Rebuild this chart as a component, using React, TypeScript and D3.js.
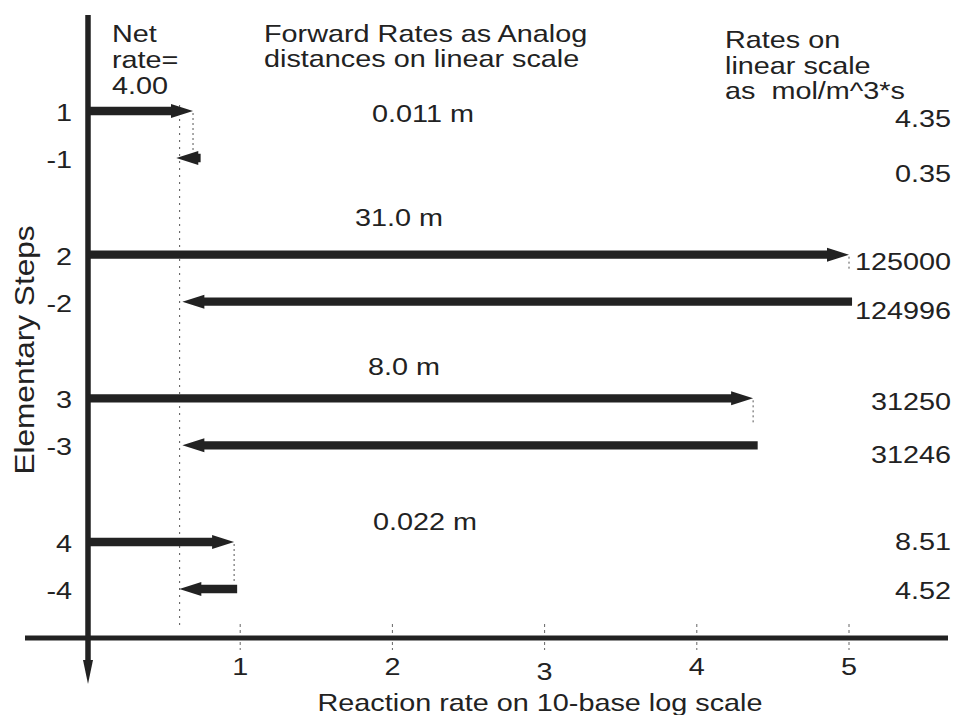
import React from "react";
import * as d3 from "d3";

// ---- data ----
const stepLabels = ["1", "-1", "2", "-2", "3", "-3", "4", "-4"];
const rateLabels = ["4.35", "0.35", "125000", "124996", "31250", "31246", "8.51", "4.52"];
// arrow start / end positions on the log10 axis
const arrowStart = [0, 0.74, 0, 5.02, 0, 4.4, 0, 0.98];
const arrowEnd = [0.69, 0.58, 5.0, 0.62, 4.37, 0.62, 0.96, 0.6];
const distanceLabels = ["0.011 m", "31.0 m", "8.0 m", "0.022 m"];
const netRate = 4.0;
const xTicks = [1, 2, 3, 4, 5];

// ---- layout ----
const W = 961;
const H = 715;
const FONT = "'Liberation Sans', Arial, Helvetica, sans-serif";
const INK = "#222";
const SX = 1.2;
const FS = 24;
const distLayout = [
  { dx: 372, dy: 11 },
  { dx: 355, dy: -29 },
  { dx: 368, dy: -23 },
  { dx: 373, dy: -12 },
];
const rateDy = [16, 24, 15, 17, 12, 18, 8, 10];

type TP = { x: number; y: number; anchor?: string; size?: number; children: React.ReactNode };
function T({ x, y, anchor = "start", size = FS, children }: TP) {
  return (
    <text transform={`translate(${x},${y}) scale(${SX},1)`} textAnchor={anchor} fontSize={size}
      style={{ whiteSpace: "pre" }}>
      {children}
    </text>
  );
}

export default function App() {
  const x = d3.scaleLinear().domain([0, 5]).range([88, 849]);
  const yGroup = d3.scaleLinear().domain([0, 3]).range([111, 542]);
  const rowY = (i: number) => yGroup(Math.floor(i / 2)) + (i % 2 === 1 ? 47 : 0);
  const axisY = 638;
  const axisX = x(0);

  const arrowPath = (x0: number, x1: number, y: number) => {
    const dir = x1 > x0 ? 1 : -1;
    const len = Math.abs(x1 - x0);
    const headLen = Math.min(22, len);
    const hs = 4.2;
    const hh = 7;
    const xb = x1 - dir * headLen;
    return `M${x0},${y - hs}L${xb},${y - hs}L${xb},${y - hh}L${x1},${y}L${xb},${y + hh}L${xb},${y + hs}L${x0},${y + hs}Z`;
  };

  return (
    <svg width={W} height={H} style={{ display: "block", position: "absolute", left: 0, top: 0 }}
      fontFamily={FONT} fill={INK}>
      <rect width={W} height={H} fill="#fff" />
      {/* net rate dotted guide */}
      <line x1={x(Math.log10(netRate))} x2={x(Math.log10(netRate))} y1={105} y2={625}
        stroke="#555" strokeWidth={1} strokeDasharray="2,5" />
      {/* dotted drops from forward tips */}
      {[0, 2, 4, 6].map((i) => (
        <line key={"drop" + i} x1={x(arrowEnd[i])} x2={x(arrowEnd[i])}
          y1={rowY(i) + 2} y2={i === 2 ? rowY(i) + 16 : rowY(i + 1) - (i === 4 ? 20 : 8)}
          stroke="#555" strokeWidth={1} strokeDasharray="2,3" />
      ))}
      {/* x ticks */}
      {xTicks.map((t) => (
        <g key={"t" + t}>
          <line x1={x(t)} x2={x(t)} y1={axisY - 14} y2={axisY + 12} stroke="#666" strokeWidth={1}
            strokeDasharray="3,3" />
          <T x={x(t)} y={axisY + 37 + (t === 3 ? 5 : 0)} anchor="middle">{t}</T>
        </g>
      ))}
      {/* horizontal axis */}
      <line x1={25} x2={948} y1={axisY} y2={axisY} stroke={INK} strokeWidth={5} />
      {/* vertical axis with arrow at bottom */}
      <line x1={axisX} x2={axisX} y1={15} y2={662} stroke={INK} strokeWidth={5.5} />
      <path d={`M${axisX - 5},660L${axisX + 5},660L${axisX},684Z`} fill={INK} />
      {/* arrows */}
      {stepLabels.map((s, i) => (
        <g key={"a" + i}>
          <path d={arrowPath(x(arrowStart[i]), x(arrowEnd[i]), rowY(i))} fill={INK} />
          <T x={72} y={rowY(i) + 10} anchor="end">{s}</T>
          <T x={951} y={rowY(i) + rateDy[i]} anchor="end">{rateLabels[i]}</T>
        </g>
      ))}
      {/* distance labels */}
      {distanceLabels.map((d, g) => (
        <T key={"d" + g} x={distLayout[g].dx} y={yGroup(g) + distLayout[g].dy}>{d}</T>
      ))}
      {/* header texts */}
      <T x={112} y={42}>Net</T>
      <T x={112} y={68}>rate=</T>
      <T x={112} y={94}>4.00</T>
      <T x={264} y={42}>Forward Rates as Analog</T>
      <T x={264} y={67}>distances on linear scale</T>
      <T x={725} y={48}>Rates on</T>
      <T x={725} y={74}>linear scale</T>
      <T x={725} y={99}>{"as  mol/m^3*s"}</T>
      {/* axis titles */}
      <T x={540} y={711} anchor="middle">Reaction rate on 10-base log scale</T>
      <text transform={`translate(34,350) rotate(-90) scale(1.17,1)`} textAnchor="middle" fontSize={27}>
        Elementary Steps
      </text>
    </svg>
  );
}
